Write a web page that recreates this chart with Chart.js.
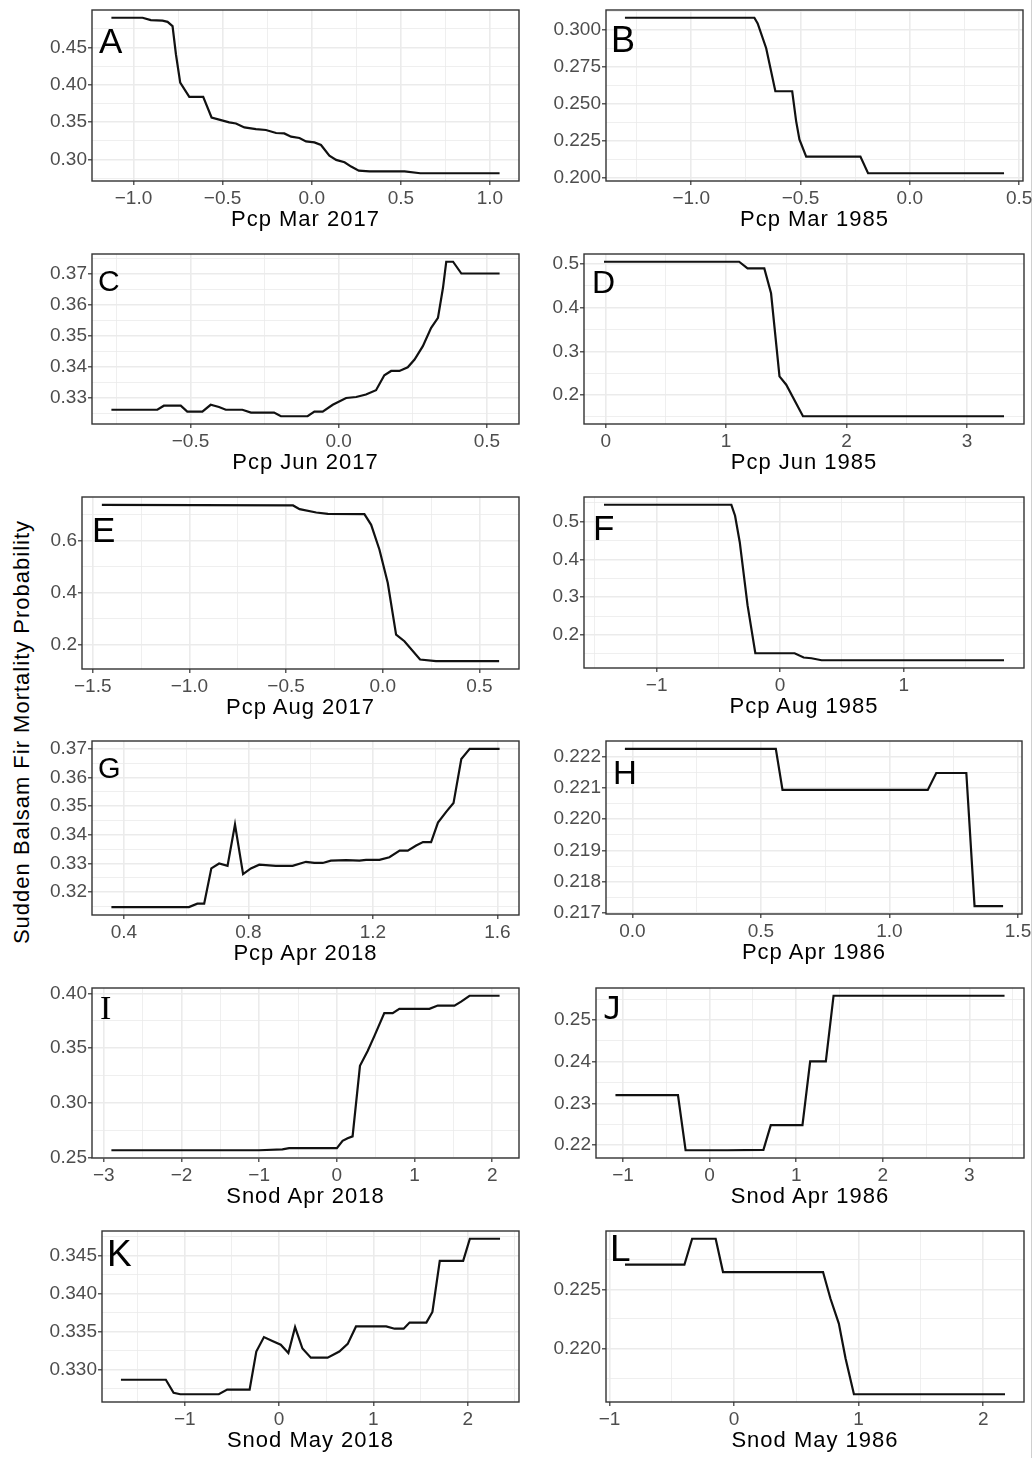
<!DOCTYPE html>
<html>
<head>
<meta charset="utf-8">
<script src="https://cdn.jsdelivr.net/npm/chart.js@4.4.1/dist/chart.umd.min.js"></script>
<style>
  body { margin: 0; background: #fff; width: 1034px; height: 1458px; position: relative; overflow: hidden;
         font-family: "Liberation Sans", Arial, sans-serif; }
  canvas { position: absolute; }
  .xt { position: absolute; transform: translateX(-50%); font-size: 22px; letter-spacing: 1px;
        white-space: nowrap; line-height: 1; color: #000; }
  .tag { position: absolute; line-height: 1; color: #000; }
  #ylab { position: absolute; left: 22px; top: 732px; font-size: 22px; letter-spacing: 1px; white-space: nowrap;
          line-height: 1; transform: translate(-50%, -50%) rotate(-90deg); color: #000; }
  #edge { position: absolute; left: 1031px; top: 0; width: 1px; height: 1458px; background: #d0d0d0; }
</style>
</head>
<body>
<div id="ylab">Sudden Balsam Fir Mortality Probability</div>
<div id="edge"></div>
<script>
// panel A: Pcp Mar 2017
const xA = [-1.124, -0.949, -0.903, -0.837, -0.809, -0.781, -0.762, -0.738, -0.687, -0.609, -0.562, -0.509, -0.463, -0.425, -0.378, -0.313, -0.257, -0.200, -0.154, -0.116, -0.069, -0.032, 0.015, 0.052, 0.099, 0.137, 0.184, 0.221, 0.264, 0.324, 0.521, 0.609, 1.054];
const yA = [0.4898, 0.4898, 0.4867, 0.4860, 0.4844, 0.4787, 0.4410, 0.4030, 0.3840, 0.3840, 0.3564, 0.3529, 0.3498, 0.3484, 0.3431, 0.3409, 0.3396, 0.3356, 0.3351, 0.3307, 0.3289, 0.3244, 0.3231, 0.3196, 0.3053, 0.2996, 0.2964, 0.2907, 0.2853, 0.2844, 0.2844, 0.2818, 0.2818];
// panel B: Pcp Mar 1985
const xB = [-1.303, -0.711, -0.696, -0.657, -0.615, -0.538, -0.520, -0.505, -0.474, -0.226, -0.191, 0.431];
const yB = [0.3080, 0.3080, 0.3042, 0.2875, 0.2585, 0.2585, 0.2384, 0.2261, 0.2145, 0.2145, 0.2033, 0.2033];
// panel C: Pcp Jun 2017
const xC = [-0.767, -0.612, -0.590, -0.533, -0.511, -0.460, -0.432, -0.404, -0.381, -0.325, -0.296, -0.218, -0.195, -0.105, -0.082, -0.054, -0.020, 0.025, 0.059, 0.092, 0.126, 0.154, 0.177, 0.205, 0.233, 0.256, 0.284, 0.312, 0.335, 0.352, 0.363, 0.386, 0.414, 0.543];
const yC = [0.3261, 0.3261, 0.3274, 0.3274, 0.3255, 0.3255, 0.3277, 0.3270, 0.3261, 0.3261, 0.3252, 0.3252, 0.3240, 0.3240, 0.3255, 0.3255, 0.3277, 0.3299, 0.3302, 0.3310, 0.3324, 0.3372, 0.3386, 0.3386, 0.3398, 0.3423, 0.3466, 0.3525, 0.3557, 0.3654, 0.3738, 0.3738, 0.3700, 0.3700];
// panel D: Pcp Jun 1985
const xD = [-0.014, 1.108, 1.178, 1.317, 1.373, 1.443, 1.499, 1.638, 3.307];
const yD = [0.5054, 0.5054, 0.4902, 0.4902, 0.4331, 0.2427, 0.2236, 0.1513, 0.1513];
// panel E: Pcp Aug 2017
const xE = [-1.453, -0.464, -0.430, -0.344, -0.284, -0.095, -0.060, -0.017, 0.026, 0.069, 0.112, 0.193, 0.275, 0.602];
const yE = [0.7380, 0.7355, 0.7214, 0.7086, 0.7035, 0.7022, 0.6613, 0.5655, 0.4377, 0.2396, 0.2141, 0.1438, 0.1374, 0.1374];
// panel F: Pcp Aug 1985
const xF = [-1.426, -0.395, -0.365, -0.327, -0.264, -0.201, 0.117, 0.190, 0.253, 0.335, 1.812];
const yF = [0.5447, 0.5447, 0.5158, 0.4456, 0.2789, 0.1518, 0.1518, 0.1404, 0.1386, 0.1333, 0.1333];
// panel G: Pcp Apr 2018
const xG = [0.360, 0.609, 0.636, 0.658, 0.681, 0.706, 0.733, 0.757, 0.783, 0.808, 0.835, 0.888, 0.942, 0.985, 1.012, 1.039, 1.065, 1.114, 1.157, 1.178, 1.221, 1.253, 1.286, 1.312, 1.339, 1.361, 1.387, 1.409, 1.436, 1.459, 1.484, 1.511, 1.607];
const yG = [0.3148, 0.3148, 0.3160, 0.3160, 0.3283, 0.3300, 0.3292, 0.3436, 0.3263, 0.3283, 0.3296, 0.3292, 0.3292, 0.3306, 0.3302, 0.3302, 0.3310, 0.3312, 0.3310, 0.3313, 0.3313, 0.3322, 0.3345, 0.3345, 0.3363, 0.3375, 0.3375, 0.3443, 0.3481, 0.3511, 0.3665, 0.3700, 0.3700];
// panel H: Pcp Apr 1986
const xH = [-0.029, 0.558, 0.584, 1.149, 1.182, 1.299, 1.331, 1.442];
const yH = [0.22224, 0.22224, 0.22093, 0.22093, 0.22147, 0.22147, 0.21722, 0.21722];
// panel I: Snod Apr 2018
const xI = [-2.902, -1.002, -0.701, -0.615, 0.000, 0.073, 0.138, 0.202, 0.297, 0.396, 0.482, 0.610, 0.718, 0.804, 1.191, 1.298, 1.513, 1.599, 1.707, 2.094];
const yI = [0.2569, 0.2569, 0.2577, 0.2589, 0.2589, 0.2655, 0.2678, 0.2696, 0.3340, 0.3475, 0.3610, 0.3820, 0.3820, 0.3859, 0.3859, 0.3889, 0.3889, 0.3925, 0.3979, 0.3979];
// panel J: Snod Apr 1986
const xJ = [-1.088, -0.366, -0.278, 0.204, 0.621, 0.706, 1.072, 1.161, 1.342, 1.431, 3.406];
const yJ = [0.2320, 0.2320, 0.2188, 0.2188, 0.2189, 0.2248, 0.2248, 0.2401, 0.2401, 0.2558, 0.2558];
// panel K: Snod May 2018
const xK = [-1.676, -1.200, -1.118, -1.047, -0.639, -0.550, -0.312, -0.241, -0.160, -0.071, 0.018, 0.099, 0.170, 0.248, 0.337, 0.515, 0.639, 0.728, 0.816, 1.136, 1.225, 1.321, 1.384, 1.562, 1.626, 1.704, 1.952, 2.023, 2.343];
const yK = [0.3287, 0.3287, 0.3270, 0.3268, 0.3268, 0.3274, 0.3274, 0.3324, 0.3343, 0.3338, 0.3333, 0.3322, 0.3356, 0.3328, 0.3316, 0.3316, 0.3324, 0.3334, 0.3357, 0.3357, 0.3354, 0.3354, 0.3362, 0.3362, 0.3376, 0.3443, 0.3443, 0.3472, 0.3472];
// panel L: Snod May 1986
const xL = [-0.876, -0.399, -0.337, -0.148, -0.089, 0.714, 0.774, 0.841, 0.895, 0.962, 2.175];
const yL = [0.22708, 0.22708, 0.22927, 0.22927, 0.22646, 0.22646, 0.22421, 0.22211, 0.21916, 0.21615, 0.21615];

// tick labels (major breaks)
const xTicksA = [-1, -0.5, 0, 0.5, 1],        yTicksA = [0.30, 0.35, 0.40, 0.45];
const xTicksB = [-1, -0.5, 0, 0.5],           yTicksB = [0.200, 0.225, 0.250, 0.275, 0.300];
const xTicksC = [-0.5, 0, 0.5],               yTicksC = [0.33, 0.34, 0.35, 0.36, 0.37];
const xTicksD = [0, 1, 2, 3],                 yTicksD = [0.2, 0.3, 0.4, 0.5];
const xTicksE = [-1.5, -1, -0.5, 0, 0.5],     yTicksE = [0.2, 0.4, 0.6];
const xTicksF = [-1, 0, 1],                   yTicksF = [0.2, 0.3, 0.4, 0.5];
const xTicksG = [0.4, 0.8, 1.2, 1.6],         yTicksG = [0.32, 0.33, 0.34, 0.35, 0.36, 0.37];
const xTicksH = [0, 0.5, 1, 1.5],             yTicksH = [0.217, 0.218, 0.219, 0.220, 0.221, 0.222];
const xTicksI = [-3, -2, -1, 0, 1, 2],        yTicksI = [0.25, 0.30, 0.35, 0.40];
const xTicksJ = [-1, 0, 1, 2, 3],             yTicksJ = [0.22, 0.23, 0.24, 0.25];
const xTicksK = [-1, 0, 1, 2],                yTicksK = [0.330, 0.335, 0.340, 0.345];
const xTicksL = [-1, 0, 1, 2],                yTicksL = [0.220, 0.225];

// panel boxes on the page: left, top, right, bottom
const BOX = {
  A: [92, 10, 519, 181],   B: [606, 10, 1023, 181],
  C: [92, 254, 519, 424],  D: [584, 254, 1024, 424],
  E: [82, 497, 519, 669],  F: [584, 497, 1024, 668],
  G: [92, 741, 519, 915],  H: [606, 741, 1022, 914],
  I: [92, 988, 519, 1158], J: [596, 988, 1024, 1158],
  K: [102, 1231, 519, 1402], L: [606, 1231, 1024, 1402]
};

const FONT = '"Liberation Sans", Arial, sans-serif';
Chart.defaults.font.family = FONT;
const YW = 70, PAD = 14, XH = 30, RP = 16;

// ggplot style: 5% expansion on each side
function limits(v) {
  const lo = Math.min(...v), hi = Math.max(...v), e = (hi - lo) * 0.05;
  return [lo - e, hi + e];
}

function buildTicks(major, lo, hi) {
  const step = major[1] - major[0];
  const out = [];
  major.forEach(v => { if (v >= lo && v <= hi) out.push({ value: v, isMajor: true }); });
  const minor = major.map(v => v - step / 2).concat([major[major.length - 1] + step / 2]);
  minor.forEach(v => { if (v >= lo && v <= hi) out.push({ value: v, isMajor: false }); });
  return out.sort((a, b) => a.value - b.value);
}

function fmt(v, d) {
  return v.toFixed(d).replace('-', '\u2212').replace(/^\u22120(\.0*)?$/, m => m.slice(1));
}

const boxBorder = {
  id: 'boxBorder',
  afterDraw(chart) {
    const { ctx, chartArea: a } = chart;
    ctx.save();
    ctx.strokeStyle = '#333333';
    ctx.lineWidth = 1.4;
    ctx.strokeRect(a.left, a.top, a.right - a.left, a.bottom - a.top);
    ctx.restore();
  }
};

function axis(ticks, lo, hi, dec, vertical) {
  return {
    type: 'linear', min: lo, max: hi,
    afterBuildTicks: s => { s.ticks = ticks.map(t => ({ value: t.value, isMajor: t.isMajor })); },
    afterFit: s => { if (vertical) s.width = YW; else s.height = XH; },
    border: { display: false },
    grid: {
      color: '#ebebeb',
      lineWidth: c => (c.tick && c.tick.isMajor ? 1.6 : 0.8),
      tickColor: c => (c.tick && c.tick.isMajor ? '#333333' : 'rgba(0,0,0,0)'),
      tickLength: 4,
      tickWidth: 1.2
    },
    ticks: {
      autoSkip: false, maxRotation: 0, minRotation: 0,
      padding: vertical ? 1 : 2,
      color: '#4d4d4d',
      font: { size: 19, family: FONT },
      callback: (v, i, arr) => (arr[i] && arr[i].isMajor ? fmt(v, dec) : '')
    }
  };
}

function panel(key, xs, ys, xMajor, yMajor, xDec, yDec, title) {
  const [l, t, r, b] = BOX[key];
  const cv = document.createElement('canvas');
  cv.width = r - l + YW + RP;
  cv.height = b - t + PAD + XH;
  cv.style.left = (l - YW) + 'px';
  cv.style.top = (t - PAD) + 'px';
  document.body.appendChild(cv);

  const [x0, x1] = limits(xs), [y0, y1] = limits(ys);
  new Chart(cv, {
    type: 'line',
    data: {
      datasets: [{
        data: xs.map((x, i) => ({ x: x, y: ys[i] })),
        borderColor: '#111111', borderWidth: 2.2,
        pointRadius: 0, tension: 0, fill: false
      }]
    },
    options: {
      responsive: false, animation: false, devicePixelRatio: 1,
      layout: { padding: { left: 0, top: PAD, right: RP, bottom: 0 } },
      plugins: { legend: { display: false }, tooltip: { enabled: false } },
      scales: {
        x: axis(buildTicks(xMajor, x0, x1), x0, x1, xDec, false),
        y: axis(buildTicks(yMajor, y0, y1), y0, y1, yDec, true)
      }
    },
    plugins: [boxBorder]
  });

  const d = document.createElement('div');
  d.className = 'xt';
  d.textContent = title;
  d.style.left = ((l + r) / 2) + 'px';
  d.style.top = (b + 27) + 'px';
  document.body.appendChild(d);
}

panel('A', xA, yA, xTicksA, yTicksA, 1, 2, 'Pcp Mar 2017');
panel('B', xB, yB, xTicksB, yTicksB, 1, 3, 'Pcp Mar 1985');
panel('C', xC, yC, xTicksC, yTicksC, 1, 2, 'Pcp Jun 2017');
panel('D', xD, yD, xTicksD, yTicksD, 0, 1, 'Pcp Jun 1985');
panel('E', xE, yE, xTicksE, yTicksE, 1, 1, 'Pcp Aug 2017');
panel('F', xF, yF, xTicksF, yTicksF, 0, 1, 'Pcp Aug 1985');
panel('G', xG, yG, xTicksG, yTicksG, 1, 2, 'Pcp Apr 2018');
panel('H', xH, yH, xTicksH, yTicksH, 1, 3, 'Pcp Apr 1986');
panel('I', xI, yI, xTicksI, yTicksI, 0, 2, 'Snod Apr 2018');
panel('J', xJ, yJ, xTicksJ, yTicksJ, 0, 2, 'Snod Apr 1986');
panel('K', xK, yK, xTicksK, yTicksK, 0, 3, 'Snod May 2018');
panel('L', xL, yL, xTicksL, yTicksL, 0, 3, 'Snod May 1986');

// panel letters: [text, left, top, size, font]
const tags = [
  ['A', 99, 23, 35, FONT], ['B', 611, 22, 36, FONT],
  ['C', 98, 266, 30, FONT], ['D', 592, 266, 32, FONT],
  ['E', 92, 512, 35, FONT], ['F', 593, 510, 35, FONT],
  ['G', 98, 754, 29, FONT], ['H', 613, 756, 33, FONT],
  ['I', 100, 991, 34, '"Liberation Serif", serif'], ['J', 603, 992, 32, '"DejaVu Sans Mono", monospace'],
  ['K', 107, 1235, 37, FONT], ['L', 610, 1230, 37, FONT]
];
tags.forEach(([txt, x, y, size, fam]) => {
  const d = document.createElement('div');
  d.className = 'tag';
  d.textContent = txt;
  d.style.left = x + 'px';
  d.style.top = y + 'px';
  d.style.fontSize = size + 'px';
  d.style.fontFamily = fam;
  document.body.appendChild(d);
});
</script>
</body>
</html>
